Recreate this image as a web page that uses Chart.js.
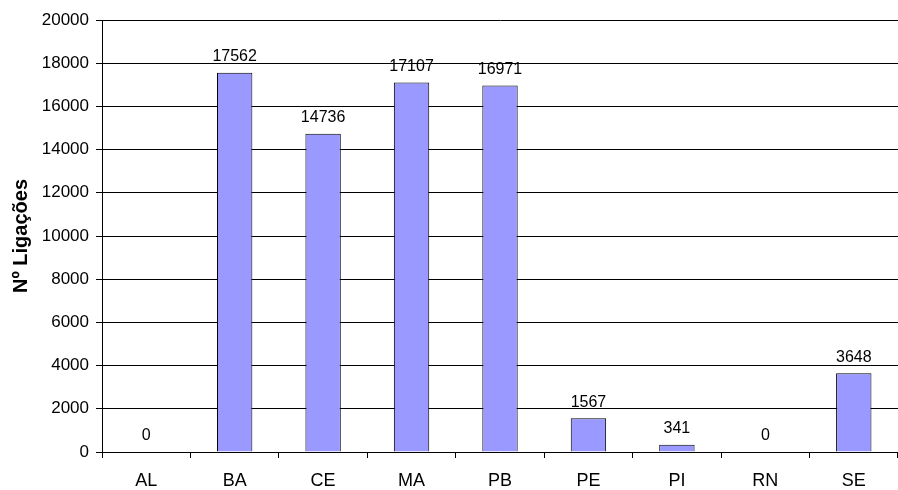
<!DOCTYPE html>
<html>
<head>
<meta charset="utf-8">
<script src="https://cdn.jsdelivr.net/npm/chart.js@4"></script>
<style>
html,body{margin:0;padding:0;background:#fff;}
#wrap{width:898px;height:490px;position:relative;}
</style>
</head>
<body>
<div id="wrap"><canvas id="c"></canvas></div>
<script>
const categories = ["AL","BA","CE","MA","PB","PE","PI","RN","SE"];
const values = [0,17562,14736,17107,16971,1567,341,0,3648];
const yTitle = "Nº Ligações";
const yMin = 0, yMax = 20000, yStep = 2000;

const FONT = '"Liberation Sans", Arial, sans-serif';

const labelPlugin = {
  id: 'barLabels',
  afterDatasetsDraw(chart) {
    const ctx = chart.ctx;
    const meta = chart.getDatasetMeta(0);
    ctx.save();
    ctx.font = '16px ' + FONT;
    ctx.fillStyle = '#000';
    ctx.textAlign = 'center';
    ctx.textBaseline = 'bottom';
    meta.data.forEach((bar, i) => {
      ctx.fillText(String(values[i]), bar.x, bar.y - 8);
    });
    ctx.restore();
  }
};

new Chart(document.getElementById('c'), {
  type: 'bar',
  data: {
    labels: categories,
    datasets: [{
      data: values,
      backgroundColor: '#9999FF',
      borderColor: '#000000',
      borderWidth: 1,
      barPercentage: 0.4,
      categoryPercentage: 1.0
    }]
  },
  options: {
    responsive: true,
    maintainAspectRatio: false,
    animation: false,
    events: [],
    layout: { padding: { top: 20, right: 0, left: 0, bottom: 0 } },
    plugins: { legend: { display: false }, tooltip: { enabled: false } },
    scales: {
      x: {
        offset: true,
        grid: { display: true, drawOnChartArea: false, drawTicks: true, tickLength: 6, color: '#000', offset: true },
        border: { display: true, color: '#000', width: 1 },
        ticks: { color: '#000', font: { family: FONT, size: 18 }, padding: 12, maxRotation: 0 },
        afterFit(scale) { scale.height = 38; }
      },
      y: {
        min: yMin, max: yMax,
        ticks: { stepSize: yStep, color: '#000', font: { family: FONT, size: 17 }, padding: 7,
                 callback: (v) => String(v) },
        grid: { color: '#000', lineWidth: 1, drawTicks: true, tickLength: 6 },
        border: { display: true, color: '#000', width: 1 },
        title: { display: true, text: yTitle, color: '#000', font: { family: FONT, size: 20, weight: 'bold' }, padding: { top: 9, bottom: 0 } },
        afterFit(scale) { scale.width = 102; }
      }
    }
  },
  plugins: [labelPlugin]
});
</script>
</body>
</html>
